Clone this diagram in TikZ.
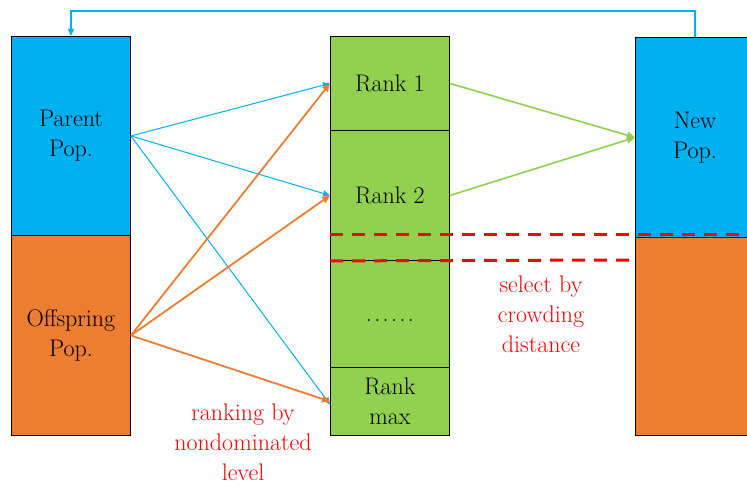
\documentclass[tikz,border=0pt]{standalone}
\usetikzlibrary{arrows.meta}
\definecolor{popblue}{HTML}{00B0F0}
\definecolor{poporange}{HTML}{ED7D31}
\definecolor{rankgreen}{HTML}{92D050}
\definecolor{selred}{HTML}{FF0000}
\newcommand{\spaceddots}{.\kern2.4pt.\kern2.4pt.\kern2.4pt.\kern2.4pt.\kern2.4pt.}
\begin{document}
\begin{tikzpicture}[x=1pt,y=-1pt,
  cell/.style={draw=black,line width=0.9pt,inner sep=0pt,minimum width=119pt,anchor=north west,
    font=\fontsize{24}{30}\selectfont,align=center,text=black},
  redlabel/.style={font=\fontsize{24}{30}\selectfont,align=center,text=selred},
  bluearrow/.style={draw=popblue,line width=1pt,-{Triangle[length=7pt,width=6pt]}},
  orangearrow/.style={draw=poporange,line width=1.8pt,-{Triangle[length=8pt,width=7pt]}},
  greenarrow/.style={draw=rankgreen,line width=1.6pt,-{Triangle[length=8pt,width=7pt]}},
  cutline/.style={draw=selred,line width=3pt,dash pattern=on 13pt off 9pt}]
\useasboundingbox (0,0) rectangle (747,489);
\begin{scope}
\clip (0,0) rectangle (747,489);
% left column: parent and offspring populations
\node[cell,fill=popblue,minimum height=199pt] (parent) at (11,36) {Parent\\Pop.};
\node[cell,fill=poporange,minimum height=200pt] (offspring) at (11,235) {Offspring\\Pop.};
% middle column: fronts after non-dominated sorting
\node[cell,fill=rankgreen,minimum height=94pt] (rank1) at (330,36) {Rank 1};
\node[cell,fill=rankgreen,minimum height=130pt] (rank2) at (330,130) {Rank 2};
\node[cell,fill=rankgreen,minimum height=107pt] (rankdots) at (330,260) {};
\node[cell,fill=rankgreen,minimum height=68pt] (rankmax) at (330,367) {Rank\\max};
\node[font=\fontsize{24}{30}\selectfont,anchor=base,inner sep=0pt] (dots) at (rankdots.center |- 0,321) {\spaceddots};
% right column: new population
\node[cell,fill=popblue,minimum height=200pt] (newpop) at (635,37) {New\\Pop.};
\node[cell,fill=poporange,minimum height=198pt] (newrest) at (635,237) {};
\end{scope}
% cut lines through the second front
\coordinate (cutA) at (747,235);
\coordinate (cutB) at (newpop.west |- 0,260);
\draw[cutline] (rank2.west |- 0,235) -- (cutA);
\draw[cutline] (rank2.south west) -- (cutB);
% parent population to the fronts
\draw[bluearrow] (parent.east) -- (rank1.west);
\draw[bluearrow] (parent.east) -- (rank2.west);
\draw[bluearrow] (parent.east) -- ([yshift=-3pt]rankmax.west);
% offspring population to the fronts
\draw[orangearrow] (offspring.east) -- (rank1.west);
\draw[orangearrow] (offspring.east) -- (rank2.west);
\draw[orangearrow] (offspring.east) -- (rankmax.west);
% selected fronts into the new population
\draw[greenarrow] (rank1.east) -- (newpop.west);
\draw[greenarrow] (rank2.east) -- (newpop.west);
% feedback loop to the next generation
\draw[bluearrow,line width=1.2pt] (newpop.north) -- ++(0,-26) -| (parent.north);
% annotations
\node[redlabel] (rankinglabel) at (243,442) {ranking by\\nondominated\\level};
\node[redlabel] (selectlabel) at (541,314) {select by\\crowding\\distance};
\end{tikzpicture}
\end{document}
